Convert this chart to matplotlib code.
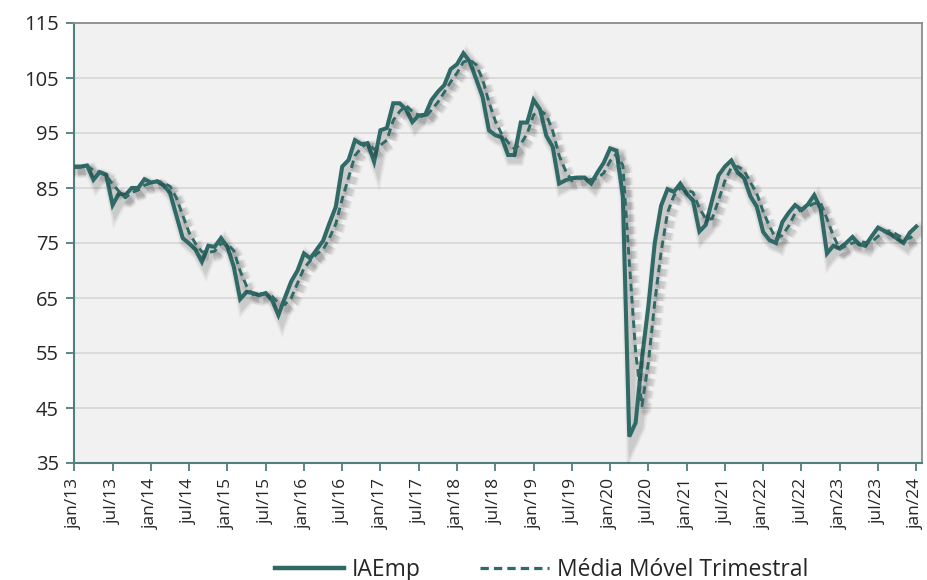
import matplotlib
matplotlib.use("Agg")
import matplotlib.pyplot as plt
import matplotlib.patheffects as pe
from matplotlib.lines import Line2D
import numpy as np

plt.rcParams['font.family'] = ['Open Sans', 'DejaVu Sans']

start_year = 2013
n_months = 133  # jan/13 .. jan/24

iaemp = [
    88.9, 88.9, 89.1, 86.5, 87.9, 87.4, 81.9, 84.0, 83.7, 85.0, 85.0, 86.6,
    86.0, 86.2, 85.5, 84.1, 80.0, 75.9, 74.9, 73.8, 71.6, 74.5, 74.3, 75.9,
    74.3, 70.7, 64.8, 66.1, 65.9, 65.5, 65.9, 64.6, 61.9, 65.0, 68.0, 70.0,
    73.1, 72.2, 73.8, 75.4, 78.6, 81.6, 88.9, 90.1, 93.7, 93.0, 93.1, 89.8,
    95.5, 95.9, 100.4, 100.4, 99.3, 97.0, 98.2, 98.3, 101.0, 102.5, 103.7, 106.6,
    107.5, 109.5, 108.0, 104.8, 101.6, 95.5, 94.6, 94.2, 91.0, 91.0, 96.9, 96.9,
    101.0, 99.3, 94.5, 92.5, 85.8, 86.4, 86.8, 86.9, 86.9, 85.8, 87.8, 89.6,
    92.2, 91.8, 83.4, 39.8, 42.3, 54.0, 63.5, 75.0, 81.8, 84.8, 84.3, 85.8,
    84.0, 82.7, 77.1, 78.3, 82.8, 87.3, 88.9, 90.0, 87.8, 86.8, 83.5, 81.6,
    77.0, 75.5, 75.0, 78.8, 80.5, 81.9, 81.0, 82.0, 83.7, 81.3, 73.1, 74.5,
    74.0, 75.0, 76.1, 74.8, 74.5, 76.2, 77.8, 77.2, 76.6, 75.8, 75.0, 76.9,
    78.0,
]

media_movel = [
    88.7, 88.8, 89.0, 88.2, 87.8, 87.3, 85.7, 84.4, 83.2, 84.2, 84.6, 85.5,
    85.9, 86.3, 85.9, 85.3, 83.2, 80.0, 76.9, 74.9, 73.4, 73.3, 73.5, 74.9,
    74.8, 73.6, 69.9, 67.2, 65.6, 65.8, 65.8, 65.3, 64.1, 63.8, 65.0, 67.7,
    70.4, 71.8, 73.0, 73.8, 75.9, 78.5, 83.0, 86.9, 90.9, 92.3, 93.3, 92.0,
    92.8, 93.7, 97.3, 98.9, 100.0, 98.9, 98.2, 97.8, 99.2, 100.6, 102.4, 104.3,
    105.9, 107.9, 108.3, 107.4, 104.8, 100.6, 97.2, 94.8, 93.3, 92.1, 93.0, 94.9,
    98.3, 99.1, 98.3, 95.4, 90.9, 88.2, 86.3, 86.7, 86.9, 86.5, 86.8, 87.7,
    89.9, 91.2, 89.1, 71.7, 55.2, 45.4, 53.3, 64.2, 73.4, 80.5, 83.6, 85.0,
    84.7, 84.2, 81.3, 79.4, 79.4, 82.8, 86.3, 88.7, 88.9, 88.2, 86.0, 84.0,
    80.7, 78.0, 75.8, 76.4, 78.1, 80.4, 81.1, 81.6, 82.2, 82.3, 79.4, 76.3,
    73.9, 74.5, 75.0, 75.3, 75.1, 75.2, 76.2, 77.1, 77.2, 76.5, 75.8, 75.9,
    76.6,
]

month_abbr = ['jan', 'fev', 'mar', 'abr', 'mai', 'jun',
              'jul', 'ago', 'set', 'out', 'nov', 'dez']
labels_all = [f"{month_abbr[i % 12]}/{(start_year + i // 12) % 100:02d}"
              for i in range(n_months)]
yticks = [35, 45, 55, 65, 75, 85, 95, 105, 115]

color = '#2F6A66'
teal_axis = '#4F7F7E'

fig = plt.figure(figsize=(9.28, 5.80), dpi=100)
ax = fig.add_axes([74 / 928, 1 - 463 / 580, (922 - 74) / 928, (463 - 23) / 580])
ax.set_facecolor('#F1F1F1')

x = np.arange(len(iaemp))

def shadow_effects(lw):
    effs = []
    for extra, a in [(6, 0.04), (4, 0.05), (2, 0.07)]:
        effs.append(pe.SimpleLineShadow(offset=(2.5, -3), shadow_color='black',
                                        alpha=a, linewidth=lw + extra))
    effs.append(pe.Normal())
    return effs

ax.plot(x, iaemp, color=color, lw=2.9, solid_joinstyle='miter', zorder=3,
        path_effects=shadow_effects(2.9 * 1.39))
ax.plot(np.arange(len(media_movel)), media_movel, color=color, lw=2.1,
        dashes=(2.6, 1.6), zorder=4, path_effects=shadow_effects(2.1 * 1.39))

ax.set_ylim(35, 115)
ax.set_xlim(-0.05, 132.9)
ax.set_yticks(yticks)
ax.set_yticklabels([str(v) for v in yticks])
ax.set_xticks(list(range(0, n_months, 6)))
ax.set_xticklabels([labels_all[i] for i in range(0, n_months, 6)], rotation=90)

ax.grid(axis='y', color='#D9D9D9', lw=1.3, zorder=0)
ax.set_axisbelow(True)

for s in ['top', 'right']:
    ax.spines[s].set_color('#8C8C8C')
    ax.spines[s].set_linewidth(1.3)
for s in ['left', 'bottom']:
    ax.spines[s].set_color(teal_axis)
    ax.spines[s].set_linewidth(1.5)

ax.tick_params(axis='y', direction='out', length=6, width=1.3, color=teal_axis,
               labelsize=14.5, labelcolor='#262626', pad=5)
ax.tick_params(axis='x', direction='out', length=6, width=1.3, color=teal_axis,
               labelsize=12.5, labelcolor='#262626', pad=5)

handles = [Line2D([], [], color=color, lw=3.2),
           Line2D([], [], color=color, lw=2.3, dashes=(2.6, 1.6))]
fig.legend(handles, ['IAEmp', 'Média Móvel Trimestral'], loc='center',
           bbox_to_anchor=(0.584, 0.018), ncol=2, frameon=False,
           fontsize=16.5, handlelength=3.0, columnspacing=2.6, handletextpad=0.35,
           labelcolor='#262626')

fig.savefig('out.png', dpi=100)
